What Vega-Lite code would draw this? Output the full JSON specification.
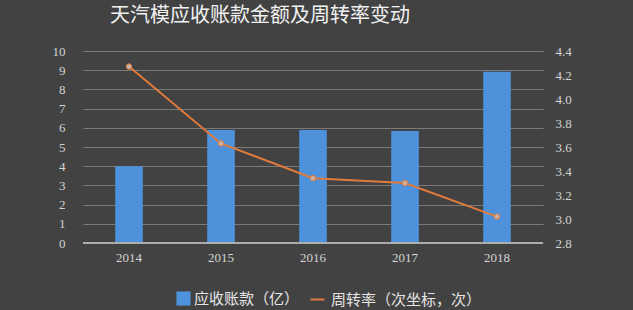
{
  "$schema": "https://vega.github.io/schema/vega-lite/v6.json",
  "width": 460,
  "height": 192,
  "autosize": {"type": "none"},
  "padding": {"left": 83, "top": 51, "right": 90, "bottom": 67},
  "background": "#424242",
  "title": {
    "text": "天汽模应收账款金额及周转率变动",
    "font": "Noto Sans CJK SC",
    "fontSize": 20,
    "fontWeight": "normal",
    "color": "#f2f2f2",
    "anchor": "middle",
    "dx": -53,
    "offset": 19
  },
  "data": {
    "values": [
      {"year": "2014", "receivable": 4.0, "turnover": 4.27},
      {"year": "2015", "receivable": 5.88, "turnover": 3.63},
      {"year": "2016", "receivable": 5.88, "turnover": 3.34},
      {"year": "2017", "receivable": 5.83, "turnover": 3.30},
      {"year": "2018", "receivable": 8.92, "turnover": 3.02}
    ]
  },
  "encoding": {
    "x": {
      "field": "year",
      "type": "ordinal",
      "scale": {"paddingInner": 0.7, "paddingOuter": 0.35},
      "axis": {
        "title": null,
        "labelAngle": 0,
        "domain": false,
        "ticks": false,
        "labelPadding": 8
      }
    }
  },
  "layer": [
    {
      "mark": {
        "type": "bar",
        "fill": {
          "gradient": "linear",
          "x1": 0, "x2": 1, "y1": 0, "y2": 0,
          "stops": [
            {"offset": 0, "color": "#3a7bc6"},
            {"offset": 0.5, "color": "#6aaef0"},
            {"offset": 1, "color": "#3a7bc6"}
          ]
        }
      },
      "encoding": {
        "y": {
          "field": "receivable",
          "type": "quantitative",
          "scale": {"domain": [0, 10]},
          "axis": {
            "title": null,
            "values": [0, 1, 2, 3, 4, 5, 6, 7, 8, 9, 10],
            "domain": false,
            "ticks": false,
            "labelPadding": 18,
            "grid": true,
            "gridColor": "#7a7a7a",
            "gridWidth": 1
          }
        },
        "fill": {
          "datum": "应收账款（亿）",
          "scale": {"range": ["#4f92dc"]},
          "legend": {
            "orient": "none",
            "legendX": 93,
            "legendY": 240,
            "title": null,
            "symbolType": "square",
            "symbolSize": 200,
            "symbolStrokeWidth": 0,
            "labelFont": "Noto Sans CJK SC",
            "labelFontSize": 15,
            "labelColor": "#e6e6e6",
            "labelOffset": 3
          }
        }
      }
    },
    {
      "mark": {"type": "rule", "color": "#b0b0b0", "strokeWidth": 1},
      "encoding": {"y": {"datum": 0, "type": "quantitative", "scale": {"domain": [0, 10]}, "axis": null}, "x": {}}
    },
    {
      "mark": {
        "type": "line",
        "strokeWidth": 2,
        "point": {"filled": true, "fill": "#c9b3a6", "stroke": "#d8834a", "strokeWidth": 1, "size": 30}
      },
      "encoding": {
        "y": {
          "field": "turnover",
          "type": "quantitative",
          "scale": {"domain": [2.8, 4.4], "zero": false},
          "axis": {
            "title": null,
            "orient": "right",
            "values": [2.8, 3.0, 3.2, 3.4, 3.6, 3.8, 4.0, 4.2, 4.4],
            "format": ".1f",
            "domain": false,
            "ticks": false,
            "grid": false,
            "labelPadding": 12
          }
        },
        "stroke": {
          "datum": "周转率（次坐标，次）",
          "scale": {"range": ["#e07b3c"]},
          "legend": {
            "orient": "none",
            "legendX": 226,
            "legendY": 240,
            "title": null,
            "symbolType": "stroke",
            "symbolSize": 200,
            "symbolStrokeWidth": 2,
            "labelFont": "Noto Sans CJK SC",
            "labelFontSize": 15,
            "labelColor": "#e6e6e6",
            "labelOffset": 5
          }
        }
      }
    }
  ],
  "resolve": {"scale": {"y": "independent"}},
  "config": {
    "view": {"stroke": null},
    "axis": {
      "labelFont": "Liberation Serif",
      "labelFontSize": 13,
      "labelColor": "#d4d4d4"
    }
  }
}
